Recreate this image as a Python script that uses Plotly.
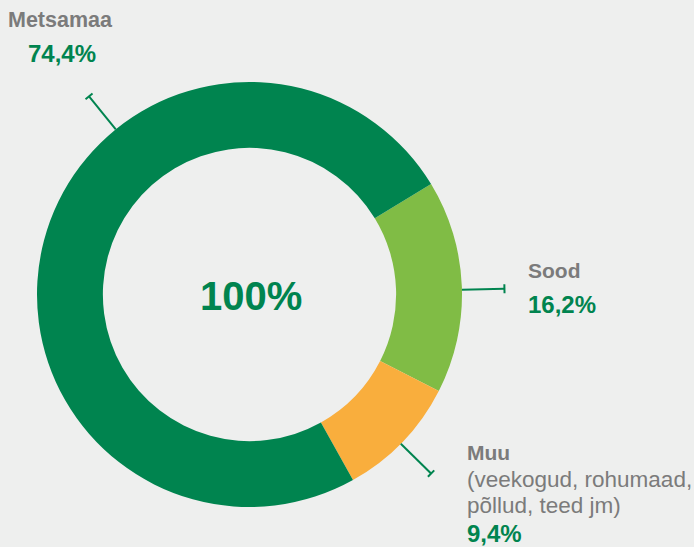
import math
import plotly.graph_objects as go

# ---- data ----
categories = ["Sood", "Muu", "Metsamaa"]
shares = [16.2, 9.4, 74.4]
share_labels = ["16,2%", "9,4%", "74,4%"]
muu_detail = ["(veekogud, rohumaad,", "põllud, teed jm)"]
total_label = "100%"
colors = ["#80bc45", "#f9ae3d", "#00844f"]

W, H = 694, 547
BG = "#eeefee"
GREEN = "#00844f"
GRAY = "#7b7b7b"
FONT = "Liberation Sans, Arial, sans-serif"

# donut geometry in pixels
cx, cy, R = 249.5, 294.5, 212.5
hole = 0.69
rotation = 58.7  # first slice start, degrees clockwise from 12 o'clock


def px(x):
    return x / W


def py(y):
    return 1 - y / H


fig = go.Figure()
fig.add_trace(go.Pie(
    labels=categories,
    values=shares,
    hole=hole,
    sort=False,
    direction="clockwise",
    rotation=rotation,
    marker=dict(colors=colors, line=dict(width=0)),
    textinfo="none",
    hoverinfo="label+percent",
    showlegend=False,
    domain=dict(x=[px(cx - R), px(cx + R)], y=[py(cy + R), py(cy - R)]),
))

# leader lines: angle (deg, math convention, from donut centre) for each label
leader_angles = {"Sood": 1.3, "Muu": -44.6, "Metsamaa": 129.0}

shapes = []
r_end = 255
cap = 4.5
for name, ang in leader_angles.items():
    t = math.radians(ang)
    x0, y0 = cx + R * math.cos(t), cy - R * math.sin(t)
    x1, y1 = cx + r_end * math.cos(t), cy - r_end * math.sin(t)
    shapes.append(dict(type="line", xref="paper", yref="paper",
                       x0=px(x0), y0=py(y0), x1=px(x1), y1=py(y1),
                       line=dict(color=GREEN, width=2)))
    nx, ny = -math.sin(t), -math.cos(t)
    shapes.append(dict(type="line", xref="paper", yref="paper",
                       x0=px(x1 - cap * nx), y0=py(y1 - cap * ny),
                       x1=px(x1 + cap * nx), y1=py(y1 + cap * ny),
                       line=dict(color=GREEN, width=2)))

annotations = []


def add_text(text, x, y, size, color, bold=True, xanchor="left"):
    annotations.append(dict(
        text=f"<b>{text}</b>" if bold else text,
        x=px(x), y=py(y), xref="paper", yref="paper",
        xanchor=xanchor, yanchor="middle", showarrow=False,
        borderpad=0, align="left",
        font=dict(family=FONT, size=size, color=color),
    ))


add_text(total_label, 251, 296, 40, GREEN, xanchor="center")
add_text(categories[2], 7, 20, 21.5, GRAY)
add_text(share_labels[2], 27, 54, 24, GREEN)
add_text(categories[0], 527, 270, 21, GRAY)
add_text(share_labels[0], 527, 304, 24, GREEN)
add_text(categories[1], 466, 452, 21, GRAY)
add_text(muu_detail[0], 466, 479, 22.5, GRAY, bold=False)
add_text(muu_detail[1], 466, 505, 22.5, GRAY, bold=False)
add_text(share_labels[1], 466, 533, 24, GREEN)

fig.update_layout(
    width=W, height=H,
    margin=dict(l=0, r=0, t=0, b=0),
    paper_bgcolor=BG, plot_bgcolor=BG,
    shapes=shapes, annotations=annotations,
)

fig.write_html(
    "out.html",
    config={"displayModeBar": False},
    post_script="document.body.style.margin='0';document.body.style.background='#eeefee';",
)
